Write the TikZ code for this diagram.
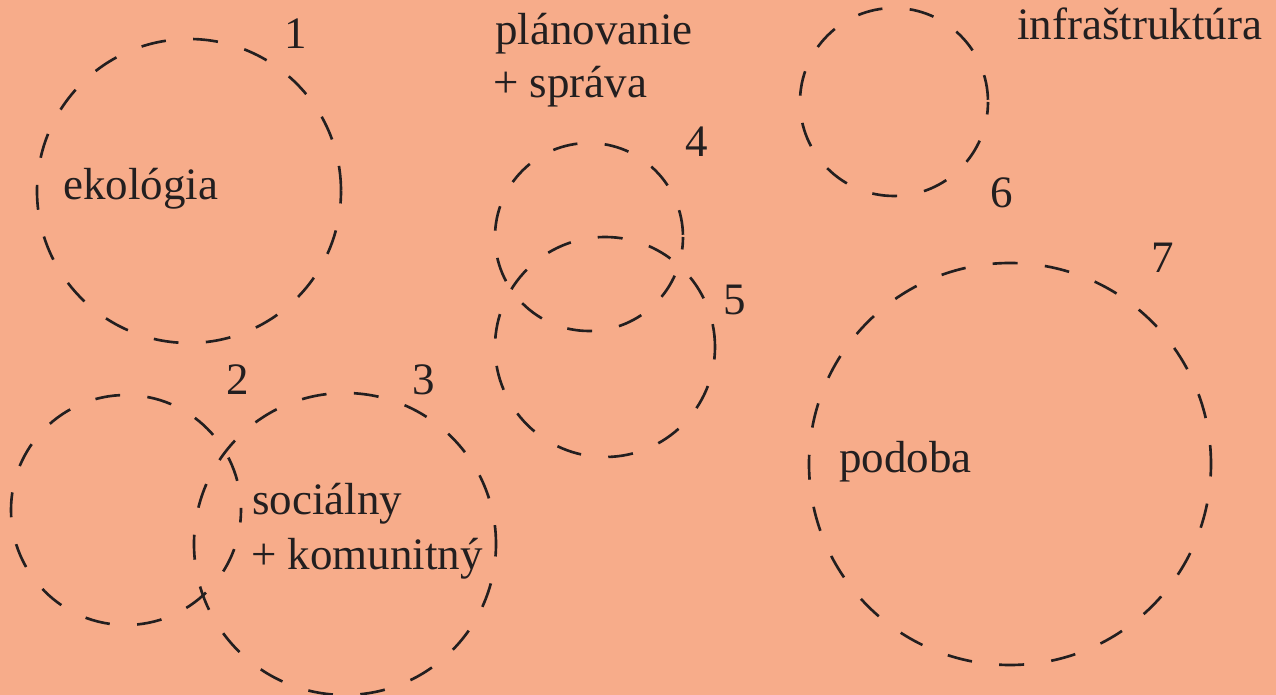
\documentclass[tikz,border=0pt]{standalone}
\usepackage{fontspec}
\setmainfont{Liberation Serif}
\usepackage{xcolor}
\definecolor{losos}{RGB}{247,172,138}
\definecolor{tus}{RGB}{35,31,32}
\tikzset{
  kruh/.style={tus,line width=1.5pt,dash pattern=on 14.2pt off 15.6pt,dash phase=7.1pt},
  popis/.style={tus,inner sep=0pt,anchor=base west,font=\fontsize{25.6}{30}\selectfont},
  cislo/.style={tus,inner sep=0pt,anchor=base,font=\fontsize{25.6}{30}\selectfont},
}

\begin{document}
\begin{tikzpicture}[x=0.02cm,y=-0.02cm]
\fill[losos] (0,0) rectangle (1276,695);
\useasboundingbox (0,0) rectangle (1276,695);
% kruhy
\draw[kruh] (189,191) circle (152);
\draw[kruh] (126,510) circle (115);
\draw[kruh] (345,544) circle (151);
\draw[kruh] (589,237) circle (94);
\draw[kruh] (605,347) circle (110);
\draw[kruh] (894,102) circle (94);
\draw[kruh] (1010,464) circle (201);
% popisy
\node[popis] (ekologia) at (63,200) {ekológia};
\node[popis] (planovanie) at (495,45) {plánovanie};
\node[popis] (sprava) at (493,98) {+ správa};
\node[popis] (infra) at (1017,40) {infraštruktúra};
\node[popis] (socialny) at (252,515) {sociálny};
\node[popis] (komunitny) at (251,570) {+ komunitný};
\node[popis] (podoba) at (839,473) {podoba};
% cisla
\node[cislo] (c1) at (296,49) {1};
\node[cislo] (c2) at (238,395) {2};
\node[cislo] (c3) at (424,395) {3};
\node[cislo] (c4) at (697,157) {4};
\node[cislo] (c5) at (735,315) {5};
\node[cislo] (c6) at (1002,208) {6};
\node[cislo] (c7) at (1163,273) {7};
\end{tikzpicture}
\end{document}
